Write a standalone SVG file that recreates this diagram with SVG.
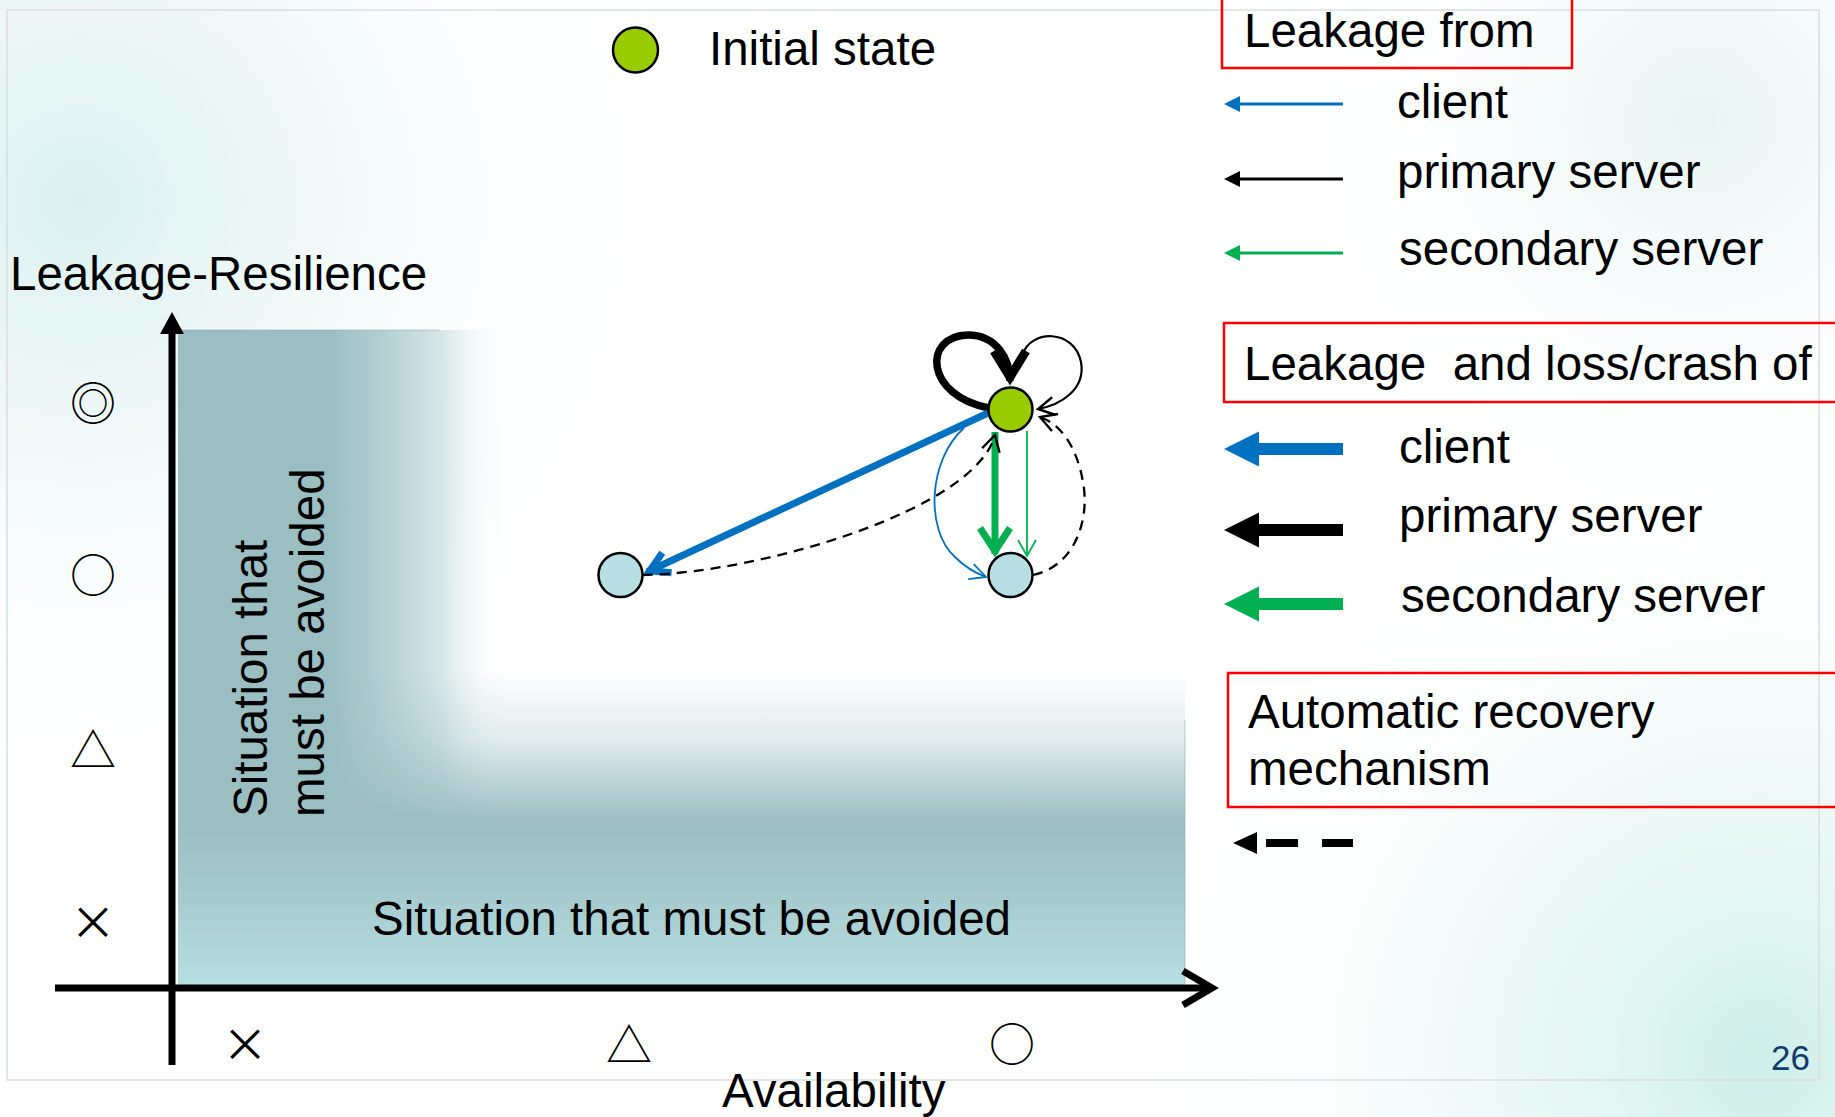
<svg xmlns="http://www.w3.org/2000/svg" width="1835" height="1117" viewBox="0 0 1835 1117">
  <style>
    .t { font-family: "Liberation Sans", Arial, sans-serif; font-size: 47.5px; fill: #000; }
    .sym { font-family: "Noto Sans CJK JP", "DejaVu Sans", sans-serif; font-size: 46px; fill: #000; text-anchor: middle; dominant-baseline: central; }
    .redbox { fill: none; stroke: #ff0000; stroke-width: 2.5; }
    .state0 { fill: #99cc00; stroke: #000; stroke-width: 2.5; }
    .state { fill: #b7dfe3; stroke: #000; stroke-width: 2.5; }
    .axis { stroke: #000; stroke-width: 7; fill: none; }
    .c-blue-thick { stroke: #0070c0; stroke-width: 7; fill: none; }
    .c-blue-thin { stroke: #0070c0; stroke-width: 1.8; fill: none; }
    .c-green-thick { stroke: #00b050; stroke-width: 7; fill: none; }
    .c-green-thin { stroke: #00b050; stroke-width: 1.8; fill: none; }
    .c-black-thick { stroke: #000; stroke-width: 7.5; fill: none; }
    .c-black-thin { stroke: #000; stroke-width: 2.2; fill: none; }
    .c-dash { stroke: #000; stroke-width: 2.3; fill: none; stroke-dasharray: 10 7; }
    .blue { fill: #0070c0; }
    .black { fill: #000; }
    .green { fill: #00b050; }
  </style>
  <defs>
    <radialGradient id="bgTL" cx="80" cy="200" r="620" gradientUnits="userSpaceOnUse">
      <stop offset="0" stop-color="#d6eded" stop-opacity="0.9"/>
      <stop offset="1" stop-color="#ffffff" stop-opacity="0"/>
    </radialGradient>
    <radialGradient id="bgBR" cx="1760" cy="1060" r="650" gradientUnits="userSpaceOnUse">
      <stop offset="0" stop-color="#cbeee8" stop-opacity="0.95"/>
      <stop offset="1" stop-color="#ffffff" stop-opacity="0"/>
    </radialGradient>
    <radialGradient id="bgTR" cx="1700" cy="120" r="450" gradientUnits="userSpaceOnUse">
      <stop offset="0" stop-color="#e3f3f1" stop-opacity="0.8"/>
      <stop offset="1" stop-color="#ffffff" stop-opacity="0"/>
    </radialGradient>
    <linearGradient id="bandV" x1="0" y1="0" x2="1" y2="0">
      <stop offset="0" stop-color="#9bbec3"/>
      <stop offset="0.46" stop-color="#9bbec3"/>
      <stop offset="0.62" stop-color="#b3cfd2"/>
      <stop offset="0.8" stop-color="#d6e7e8"/>
      <stop offset="1" stop-color="#ffffff" stop-opacity="0"/>
    </linearGradient>
    <linearGradient id="bandH" x1="0" y1="0" x2="0" y2="1">
      <stop offset="0" stop-color="#9bbec3" stop-opacity="0"/>
      <stop offset="0.22" stop-color="#9bbec3" stop-opacity="0.3"/>
      <stop offset="0.48" stop-color="#9bbec3"/>
      <stop offset="0.72" stop-color="#a6cbcf"/>
      <stop offset="1" stop-color="#b6dfe2"/>
    </linearGradient>
    <marker id="vBlueThick" markerUnits="userSpaceOnUse" viewBox="-40 -25 50 50" markerWidth="50" markerHeight="50" refX="0" refY="0" orient="auto" overflow="visible">
      <path d="M-22,-11 L-3,0 L-22,11" fill="none" stroke="#0070c0" stroke-width="7" stroke-linejoin="miter"/>
    </marker>
    <marker id="vGreenThick" markerUnits="userSpaceOnUse" viewBox="-40 -25 50 50" markerWidth="50" markerHeight="50" refX="0" refY="0" orient="auto" overflow="visible">
      <path d="M-26,-15 L-3,0 L-26,15" fill="none" stroke="#00b050" stroke-width="7" stroke-linejoin="miter"/>
    </marker>
    <marker id="vBlackThick" markerUnits="userSpaceOnUse" viewBox="-40 -25 50 50" markerWidth="50" markerHeight="50" refX="0" refY="0" orient="auto" overflow="visible">
      <path d="M-30,-16 L-4,0 L-30,16" fill="none" stroke="#000" stroke-width="9" stroke-linejoin="miter"/>
    </marker>
    <marker id="vBlueThin" markerUnits="userSpaceOnUse" viewBox="-30 -20 40 40" markerWidth="40" markerHeight="40" refX="0" refY="0" orient="auto" overflow="visible">
      <path d="M-16,-8 L0,0 L-16,8" fill="none" stroke="#0070c0" stroke-width="1.8"/>
    </marker>
    <marker id="vGreenThin" markerUnits="userSpaceOnUse" viewBox="-30 -20 40 40" markerWidth="40" markerHeight="40" refX="0" refY="0" orient="auto" overflow="visible">
      <path d="M-16,-9 L0,0 L-16,9" fill="none" stroke="#00b050" stroke-width="1.8"/>
    </marker>
    <marker id="vBlackThin" markerUnits="userSpaceOnUse" viewBox="-30 -20 40 40" markerWidth="40" markerHeight="40" refX="0" refY="0" orient="auto" overflow="visible">
      <path d="M-16,-9 L0,0 L-16,9" fill="none" stroke="#000" stroke-width="2.4" stroke-dasharray="none"/>
    </marker>
  </defs>

  <!-- background -->
  <rect x="0" y="0" width="1835" height="1117" fill="#ffffff"/>
  <rect x="0" y="0" width="1835" height="1117" fill="url(#bgTL)"/>
  <rect x="0" y="0" width="1835" height="1117" fill="url(#bgTR)"/>
  <rect x="0" y="0" width="1835" height="1117" fill="url(#bgBR)"/>
  <rect x="7" y="10" width="1812" height="1070" fill="none" stroke="#d9dede" stroke-width="1.5"/>

  <!-- shaded "avoid" region -->
  <g id="avoid-region">
    <rect x="178" y="330" width="330" height="655" fill="url(#bandV)"/>
    <rect x="178" y="670" width="1007" height="315" fill="url(#bandH)"/>
    <line x1="178" y1="330" x2="440" y2="330" stroke="#8fa9ad" stroke-width="1" opacity="0.5"/>
    <line x1="1185" y1="720" x2="1185" y2="984" stroke="#8fa9ad" stroke-width="1" opacity="0.6"/>
    <text class="t" transform="translate(267,817) rotate(-90)">Situation that</text>
    <text class="t" transform="translate(324,817) rotate(-90)">must be avoided</text>
    <text class="t" x="372" y="935">Situation that must be avoided</text>
  </g>

  <!-- axes -->
  <g id="axes">
    <line class="axis" x1="172" y1="330" x2="172" y2="1065"/>
    <polygon points="172,312 184,334 160,334" fill="#000"/>
    <line class="axis" x1="55" y1="988" x2="1210" y2="988"/>
    <polyline class="axis" points="1183,971 1212,988 1183,1005" stroke-linejoin="miter"/>
    <text class="t" x="10" y="290">Leakage-Resilience</text>
    <text class="t" x="722" y="1107">Availability</text>
    <text class="sym" x="93" y="400">◎</text>
    <text class="sym" x="93" y="572">○</text>
    <text class="sym" x="93" y="747">△</text>
    <text class="sym" x="93" y="919">×</text>
    <text class="sym" x="245" y="1041">×</text>
    <text class="sym" x="629" y="1042">△</text>
    <text class="sym" x="1012" y="1041">○</text>
  </g>

  <!-- connectors -->
  <g id="connectors">
    <path class="c-black-thick" d="M989,408 C925,396 922,336 968,335 C997,335 1010,360 1010,381" marker-end="url(#vBlackThick)"/>
    <path class="c-black-thin" d="M1023,354 C1030,330 1074,328 1081,362 C1086,390 1060,405 1038,409" marker-end="url(#vBlackThin)"/>
    <path class="c-blue-thick" d="M988,413 L647,572" marker-end="url(#vBlueThick)"/>
    <path class="c-blue-thin" d="M964,428 C928,460 925,530 955,557 C965,567 975,573 986,577" marker-end="url(#vBlueThin)"/>
    <path class="c-green-thick" d="M995,432 L995,554" marker-end="url(#vGreenThick)"/>
    <path class="c-green-thin" d="M1027,431 L1027,556" marker-end="url(#vGreenThin)"/>
    <path class="c-dash" d="M643,575 C760,573 975,510 995,435" marker-end="url(#vBlackThin)"/>
    <path class="c-dash" d="M1033,575 C1075,566 1090,520 1083,482 C1077,448 1062,425 1040,417" marker-end="url(#vBlackThin)"/>
  </g>

  <!-- nodes -->
  <g id="node-initial">
    <circle class="state0" cx="1010.5" cy="409.5" r="22"/>
  </g>
  <g id="node-left">
    <circle class="state" cx="620.5" cy="575" r="22"/>
  </g>
  <g id="node-right">
    <circle class="state" cx="1010.5" cy="575" r="22"/>
  </g>

  <!-- legend: initial state -->
  <g id="legend-initial">
    <circle class="state0" cx="635.5" cy="50" r="22.5"/>
    <text class="t" x="709" y="65">Initial state</text>
  </g>

  <!-- legend: leakage from -->
  <g id="legend-leakage">
    <rect class="redbox" x="1222" y="-10" width="350" height="78"/>
    <text class="t" x="1244" y="47">Leakage from</text>
    <line x1="1236" y1="104" x2="1343" y2="104" stroke="#0070c0" stroke-width="3"/>
    <polygon class="blue" points="1224,104 1240,96 1240,112"/>
    <text class="t" x="1397" y="118">client</text>
    <line x1="1236" y1="179" x2="1343" y2="179" stroke="#000" stroke-width="3"/>
    <polygon class="black" points="1224,179 1240,171 1240,187"/>
    <text class="t" x="1397" y="188">primary server</text>
    <line x1="1236" y1="253" x2="1343" y2="253" stroke="#00b050" stroke-width="3"/>
    <polygon class="green" points="1224,253 1240,245 1240,261"/>
    <text class="t" x="1399" y="265">secondary server</text>
  </g>

  <!-- legend: leakage and loss -->
  <g id="legend-loss">
    <rect class="redbox" x="1224" y="323" width="640" height="79"/>
    <text class="t" x="1244" y="380" xml:space="preserve">Leakage  and loss/crash of</text>
    <line x1="1255" y1="449" x2="1343" y2="449" stroke="#0070c0" stroke-width="12"/>
    <polygon class="blue" points="1224,449 1259,431.5 1259,466.5"/>
    <text class="t" x="1399" y="463">client</text>
    <line x1="1255" y1="530" x2="1343" y2="530" stroke="#000" stroke-width="12"/>
    <polygon class="black" points="1224,530 1259,512.5 1259,547.5"/>
    <text class="t" x="1399" y="532">primary server</text>
    <line x1="1255" y1="604" x2="1343" y2="604" stroke="#00b050" stroke-width="12"/>
    <polygon class="green" points="1224,604 1259,586.5 1259,621.5"/>
    <text class="t" x="1401" y="612">secondary server</text>
  </g>

  <!-- legend: recovery -->
  <g id="legend-recovery">
    <rect class="redbox" x="1228" y="673" width="640" height="134"/>
    <text class="t" x="1248" y="728">Automatic recovery</text>
    <text class="t" x="1248" y="785">mechanism</text>
    <polygon class="black" points="1233,843 1257,832 1257,854"/>
    <line x1="1266" y1="843" x2="1298" y2="843" stroke="#000" stroke-width="8"/>
    <line x1="1322" y1="843" x2="1353" y2="843" stroke="#000" stroke-width="8"/>
  </g>

  <text id="page-number" x="1810" y="1070" text-anchor="end" style="font-family: 'Liberation Sans', Arial, sans-serif; font-size: 35px; fill: #0f3c6c;">26</text>
</svg>
